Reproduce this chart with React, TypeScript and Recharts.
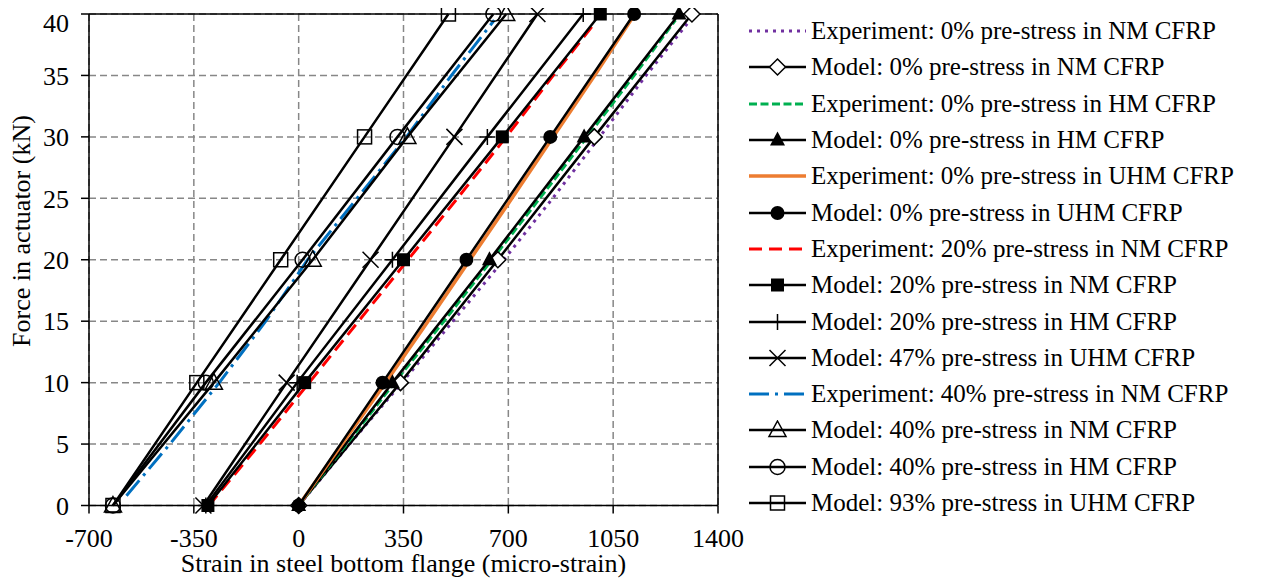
import React from 'react';
import { CartesianGrid, Legend, Line, LineChart, ReferenceLine, XAxis, YAxis } from 'recharts';

// force levels (kN) used by the model curves
const modelForce = [0, 10, 20, 30, 40];

// model strains (micro-strain) at each force level
const modelNM0 = [0, 340, 665, 987, 1313];
const modelHM0 = [0, 313, 637, 953, 1270];
const modelUHM0 = [0, 280, 560, 840, 1120];
const modelNM20 = [-303, 20, 350, 680, 1007];
const modelHM20 = [-310, -5, 313, 630, 950];
const modelUHM47 = [-318, -40, 240, 520, 797];
const modelNM40 = [-620, -283, 47, 363, 693];
const modelHM40 = [-620, -310, 13, 330, 650];
const modelUHM93 = [-620, -340, -60, 220, 500];

// experiments
const expNM0Force = [0, 5, 10, 15, 20, 25, 30, 35, 39.6];
const expNM0 = [0, 170, 345, 515, 685, 848, 1005, 1160, 1310];
const expHM0Force = [0, 5, 10, 15, 20, 25, 30, 35, 39.5];
const expHM0 = [0, 160, 320, 485, 645, 805, 963, 1120, 1258];
const expUHM0Force = [0, 5, 10, 15, 20, 25, 30, 35, 39.8];
const expUHM0 = [0, 145, 290, 432, 572, 712, 850, 988, 1117];
const expNM20Force = [0, 5, 10, 15, 20, 25, 30, 35, 39.4];
const expNM20 = [-300, -130, 35, 200, 365, 530, 693, 850, 993];
const expNM40Force = [0.8, 5, 10, 15, 20, 25, 30, 35, 39.5];
const expNM40 = [-575, -430, -265, -110, 30, 195, 360, 510, 653];

const xTicks = [-700, -350, 0, 350, 700, 1050, 1400];
const yTicks = [0, 5, 10, 15, 20, 25, 30, 35, 40];

const FONT = 'Liberation Serif, DejaVu Serif, Times New Roman, Times, serif';

const toPoints = (xs: number[], ys: number[]) => xs.map((x, i) => ({ x, y: ys[i] }));

type MarkerKind =
  | 'diamond'
  | 'triangle'
  | 'circle'
  | 'square'
  | 'plus'
  | 'cross'
  | 'openTriangle'
  | 'openCircle'
  | 'openSquare';

type Series = {
  name: string;
  data: { x: number; y: number }[];
  color: string;
  width: number;
  dash?: string;
  marker?: MarkerKind;
};

const series: Series[] = [
  { name: 'Experiment: 0% pre-stress in NM CFRP', data: toPoints(expNM0, expNM0Force), color: '#7030A0', width: 3, dash: '3 5' },
  { name: 'Model: 0% pre-stress in NM CFRP', data: toPoints(modelNM0, modelForce), color: '#000', width: 2.5, marker: 'diamond' },
  { name: 'Experiment: 0% pre-stress in HM CFRP', data: toPoints(expHM0, expHM0Force), color: '#00B050', width: 3, dash: '8 3.5' },
  { name: 'Model: 0% pre-stress in HM CFRP', data: toPoints(modelHM0, modelForce), color: '#000', width: 2.5, marker: 'triangle' },
  { name: 'Experiment: 0% pre-stress in UHM CFRP', data: toPoints(expUHM0, expUHM0Force), color: '#ED7D31', width: 3.5 },
  { name: 'Model: 0% pre-stress in UHM CFRP', data: toPoints(modelUHM0, modelForce), color: '#000', width: 2.5, marker: 'circle' },
  { name: 'Experiment: 20% pre-stress in NM CFRP', data: toPoints(expNM20, expNM20Force), color: '#FF0000', width: 3, dash: '13 7' },
  { name: 'Model: 20% pre-stress in NM CFRP', data: toPoints(modelNM20, modelForce), color: '#000', width: 2.5, marker: 'square' },
  { name: 'Model: 20% pre-stress in HM CFRP', data: toPoints(modelHM20, modelForce), color: '#000', width: 2.5, marker: 'plus' },
  { name: 'Model: 47% pre-stress in UHM CFRP', data: toPoints(modelUHM47, modelForce), color: '#000', width: 2.5, marker: 'cross' },
  { name: 'Experiment: 40% pre-stress in NM CFRP', data: toPoints(expNM40, expNM40Force), color: '#0070C0', width: 3, dash: '20 6 3 6' },
  { name: 'Model: 40% pre-stress in NM CFRP', data: toPoints(modelNM40, modelForce), color: '#000', width: 2.5, marker: 'openTriangle' },
  { name: 'Model: 40% pre-stress in HM CFRP', data: toPoints(modelHM40, modelForce), color: '#000', width: 2.5, marker: 'openCircle' },
  { name: 'Model: 93% pre-stress in UHM CFRP', data: toPoints(modelUHM93, modelForce), color: '#000', width: 2.5, marker: 'openSquare' },
];

const Marker = ({ kind, cx, cy }: { kind: MarkerKind; cx: number; cy: number }) => {
  const open = { fill: 'none', stroke: '#000', strokeWidth: 1.5 };
  switch (kind) {
    case 'diamond':
      return (
        <polygon
          points={`${cx},${cy - 8} ${cx + 8},${cy} ${cx},${cy + 8} ${cx - 8},${cy}`}
          fill="#fff"
          stroke="#000"
          strokeWidth={1.5}
        />
      );
    case 'triangle':
      return <polygon points={`${cx},${cy - 8.5} ${cx + 7.5},${cy + 5.5} ${cx - 7.5},${cy + 5.5}`} fill="#000" />;
    case 'circle':
      return <circle cx={cx} cy={cy} r={7} fill="#000" />;
    case 'square':
      return <rect x={cx - 6.5} y={cy - 6.5} width={13} height={13} fill="#000" />;
    case 'plus':
      return <path d={`M${cx - 8},${cy}H${cx + 8}M${cx},${cy - 8}V${cy + 8}`} {...open} />;
    case 'cross':
      return <path d={`M${cx - 8},${cy - 8}L${cx + 8},${cy + 8}M${cx - 8},${cy + 8}L${cx + 8},${cy - 8}`} {...open} />;
    case 'openTriangle':
      return <polygon points={`${cx},${cy - 9} ${cx + 8.5},${cy + 6.5} ${cx - 8.5},${cy + 6.5}`} {...open} />;
    case 'openCircle':
      return <circle cx={cx} cy={cy} r={7.5} {...open} />;
    case 'openSquare':
      return <rect x={cx - 7} y={cy - 7} width={14} height={14} {...open} />;
    default:
      return null;
  }
};

const LegendContent = () => (
  <div style={{ fontFamily: FONT, fontSize: 25, color: '#000' }}>
    {series.map((s) => (
      <div key={s.name} style={{ display: 'flex', alignItems: 'center', height: 36.3, whiteSpace: 'nowrap' }}>
        <svg width={57} height={20} style={{ marginRight: 5, flexShrink: 0 }}>
          <line x1={0} y1={10} x2={57} y2={10} stroke={s.color} strokeWidth={s.width} strokeDasharray={s.dash} />
          {s.marker && <Marker kind={s.marker} cx={28.5} cy={10} />}
        </svg>
        <span style={{ lineHeight: '36px' }}>{s.name}</span>
      </div>
    ))}
  </div>
);

const tickStyle = { fill: '#000', fontSize: 26, fontFamily: FONT };

const StrainChart = () => {
  return (
    <LineChart width={1253} height={571} margin={{ top: 6, right: 543, left: 0, bottom: 3.5 }}>
      <CartesianGrid stroke="#878787" strokeWidth={1.5} strokeDasharray="7 4" />
      <XAxis
        type="number"
        dataKey="x"
        domain={[-700, 1400]}
        ticks={xTicks}
        height={70}
        tick={tickStyle}
        tickSize={8}
        tickMargin={15}
        axisLine={{ stroke: '#000', strokeWidth: 1.5 }}
        tickLine={{ stroke: '#000', strokeWidth: 1.5 }}
        label={{
          value: 'Strain in steel bottom flange (micro-strain)',
          position: 'insideBottom',
          offset: 3.5,
          style: { fill: '#000', fontSize: 26, fontFamily: FONT },
        }}
      />
      <YAxis
        type="number"
        dataKey="y"
        domain={[0, 40]}
        ticks={yTicks}
        width={81}
        tick={tickStyle}
        tickSize={8}
        tickMargin={12}
        axisLine={{ stroke: '#000', strokeWidth: 1.5 }}
        tickLine={{ stroke: '#000', strokeWidth: 1.5 }}
        label={() => (
          <text
            x={22}
            y={223}
            transform="rotate(-90 22 223)"
            textAnchor="middle"
            fill="#000"
            fontSize={26}
            fontFamily={FONT}>
            Force in actuator (kN)
          </text>
        )}
      />
      <ReferenceLine y={40} stroke="#000" strokeWidth={1.5} />
      <ReferenceLine x={1400} stroke="#000" strokeWidth={1.5} />
      {series.map((s) => (
        <Line
          key={s.name}
          name={s.name}
          data={s.data}
          dataKey="y"
          type="linear"
          stroke={s.color}
          strokeWidth={s.width}
          strokeDasharray={s.dash}
          activeDot={false}
          dot={
            s.marker
              ? (p: any) => <Marker key={`${s.name}-${p.index}`} kind={s.marker as MarkerKind} cx={p.cx} cy={p.cy} />
              : false
          }
          isAnimationActive={false}
        />
      ))}
      <Legend
        layout="vertical"
        align="center"
        verticalAlign="middle"
        content={() => <LegendContent />}
        wrapperStyle={{ left: 741, top: 5, width: 520, height: 'auto' }}
      />
    </LineChart>
  );
};

export default function App() {
  return <StrainChart />;
}
